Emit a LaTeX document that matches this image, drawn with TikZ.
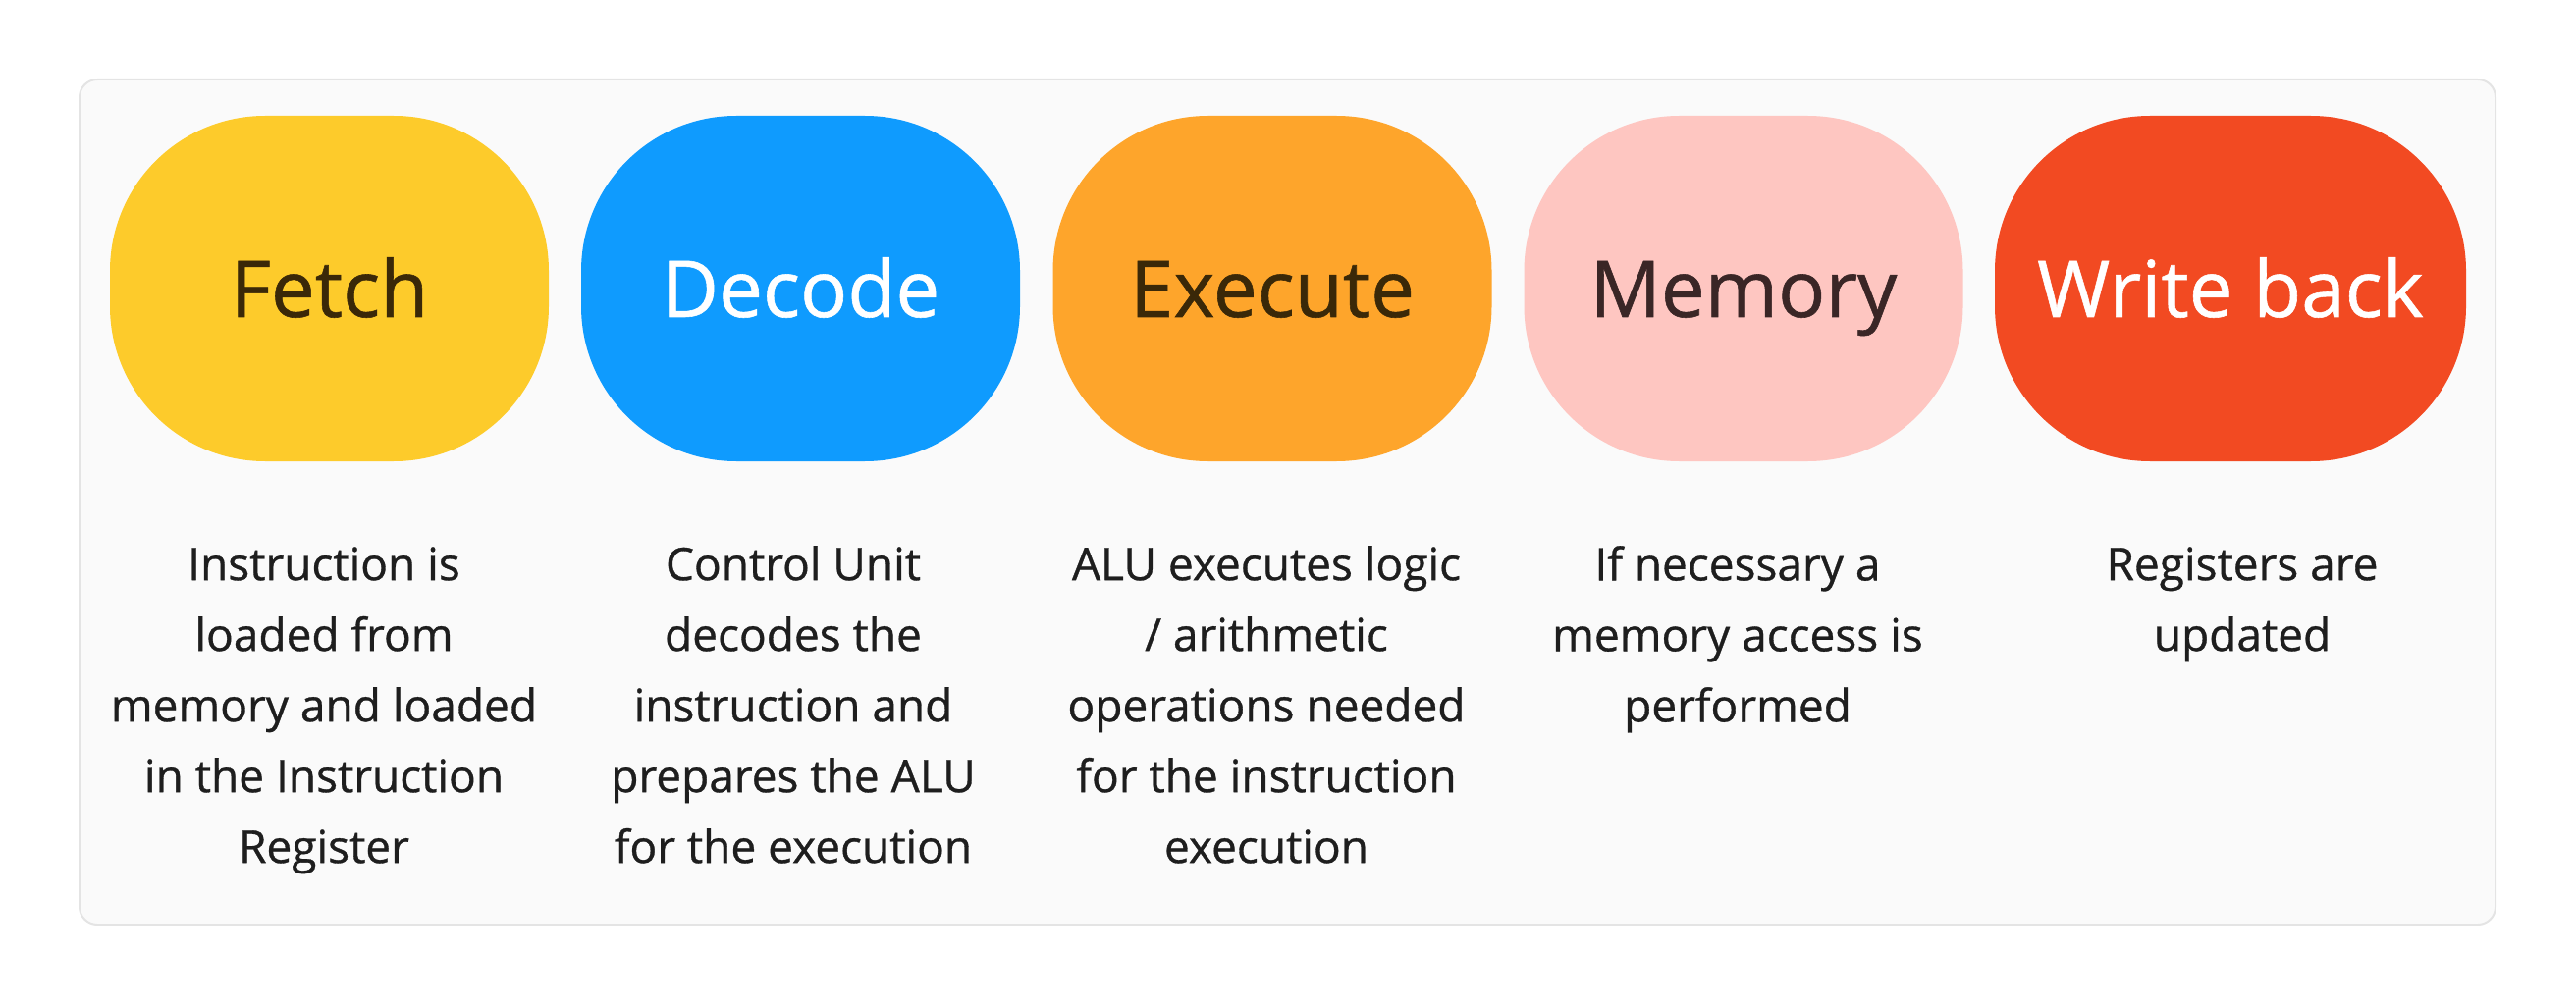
\documentclass[tikz,border=0pt]{standalone}
\usepackage{fontspec}
\setmainfont{Open Sans}[FakeBold=0.7]
\definecolor{bgfill}{HTML}{FAFAFA}
\definecolor{bgline}{HTML}{E4E4E4}
\definecolor{cfetch}{HTML}{FDCB2B}
\definecolor{cdecode}{HTML}{0F9BFE}
\definecolor{cexec}{HTML}{FEA52B}
\definecolor{cmem}{HTML}{FEC6C1}
\definecolor{cwb}{HTML}{F24A22}
\definecolor{tdark}{HTML}{3A2808}
\definecolor{tmem}{HTML}{3A2626}
\definecolor{tdesc}{HTML}{1E1E1E}
\tikzset{
  pill/.style={rectangle, inner sep=0pt, minimum height=352pt, rounded corners=158pt,
    font=\fontsize{80}{96}\selectfont, text height=58pt, text depth=0pt},
  desc/.style={anchor=north, inner sep=0pt, align=center, text=tdesc,
    font=\fontsize{46}{72}\selectfont},
}
\begin{document}
\begin{tikzpicture}[x=1pt,y=-1pt]
\useasboundingbox (0,0) rectangle (2624,1024);
\draw[fill=bgfill, draw=bgline, line width=2pt, rounded corners=18pt] (81,81) rectangle (2542,942);
\node[pill, fill=cfetch, text=tdark, minimum width=447pt] (fetch) at (335.5,294) {Fetch};
\node[pill, fill=cdecode, text=white, minimum width=447pt] (decode) at (815.5,294) {Decode};
\node[pill, fill=cexec, text=tdark, minimum width=447pt] (exec) at (1296,294) {Execute};
\node[pill, fill=cmem, text=tmem, minimum width=447pt] (mem) at (1776,294) {Memory};
\node[pill, fill=cwb, text=white, minimum width=480pt] (wb) at (2272,294) {Write back};
\node[desc] (dfetch) at (330,556) {\vphantom{l}Instruction is\\loaded from\\memory and loaded\\in the Instruction\\Register};
\node[desc] (ddecode) at (808,556) {\vphantom{l}Control Unit\\decodes the\\instruction and\\prepares the ALU\\for the execution};
\node[desc] (dexec) at (1290,556) {\vphantom{l}ALU executes logic\\/ arithmetic\\operations needed\\for the instruction\\execution};
\node[desc] (dmem) at (1770,556) {\vphantom{l}If necessary a\\memory access is\\performed};
\node[desc] (dwb) at (2284,556) {\vphantom{l}Registers are\\updated};
\end{tikzpicture}
\end{document}
